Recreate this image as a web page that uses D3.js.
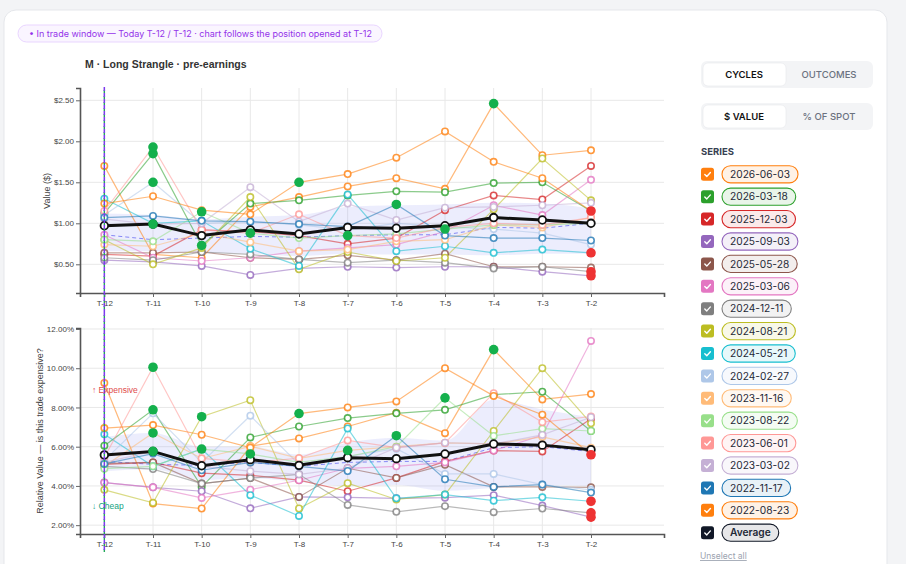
<!DOCTYPE html>
<html>
<head>
<meta charset="utf-8">
<script src="https://cdn.jsdelivr.net/npm/d3@7"></script>
<style>
  body { margin: 0; background: #f3f4f6; }
  svg { display: block; }
  .tick text { font-family: "Liberation Sans", Arial, sans-serif; font-size: 8px; fill: #444; }
  .ui { font-family: Inter, "Noto Sans", sans-serif; }
</style>
</head>
<body>
<div id="chart"></div>
<script>
// Days before earnings and their labels
var days = [-12, -11, -10, -9, -8, -7, -6, -5, -4, -3, -2];
var dayLabels = ["T-12", "T-11", "T-10", "T-9", "T-8", "T-7", "T-6", "T-5", "T-4", "T-3", "T-2"];

// Earnings cycles (legend order) and their colours
var cycleNames = ["2026-06-03", "2026-03-18", "2025-12-03", "2025-09-03", "2025-05-28", "2025-03-06",
    "2024-12-11", "2024-08-21", "2024-05-21", "2024-02-27", "2023-11-16", "2023-08-22",
    "2023-06-01", "2023-03-02", "2022-11-17", "2022-08-23"];
var cycleColors = ["#ff7f0e", "#2ca02c", "#d62728", "#9467bd", "#8c564b", "#e377c2",
    "#7f7f7f", "#bcbd22", "#17becf", "#aec7e8", "#ffbb78", "#98df8a",
    "#ff9896", "#c5b0d5", "#1f77b4", "#ff7f0e"];

// Position value in $ per cycle (T-12 .. T-2)
var valueSeries = [
    [1.70, 0.62, 0.58, 1.20, 1.32, 1.45, 1.55, 1.42, 2.46, 1.83, 1.89],
    [1.12, 1.85, 0.73, 1.24, 1.28, 1.34, 1.39, 1.38, 1.49, 1.50, 1.15],
    [0.62, 0.60, 0.92, 0.90, 0.85, 0.75, 0.82, 1.16, 1.34, 1.29, 1.70],
    [0.55, 0.53, 0.48, 0.37, 0.45, 0.47, 0.46, 0.47, 0.47, 0.41, 0.36],
    [0.64, 0.64, 0.65, 0.58, 0.56, 0.61, 0.55, 0.63, 0.47, 0.47, 0.46],
    [0.86, 0.58, 0.54, 0.58, 0.66, 0.70, 0.74, 0.90, 1.22, 1.10, 1.53],
    [0.58, 0.55, 0.65, 0.62, 0.56, 0.52, 0.55, 0.52, 0.45, 0.47, 0.41],
    [0.80, 0.50, 0.70, 1.32, 0.44, 0.65, 0.54, 0.58, 1.17, 1.79, 1.28],
    [1.30, 1.00, 1.03, 0.69, 0.48, 1.35, 0.66, 0.72, 0.64, 0.68, 0.64],
    [1.10, 1.50, 1.00, 1.02, 0.98, 0.92, 1.00, 0.96, 0.93, 0.88, 0.74],
    [0.74, 0.72, 0.88, 0.77, 0.66, 0.68, 0.78, 0.80, 0.98, 0.95, 1.07],
    [0.80, 0.78, 1.14, 0.88, 0.82, 0.85, 0.87, 0.93, 0.98, 0.98, 1.00],
    [1.15, 1.93, 0.92, 0.88, 1.11, 0.85, 0.82, 0.95, 1.00, 0.98, 1.07],
    [1.05, 0.99, 1.00, 1.44, 1.02, 1.24, 1.04, 1.19, 1.20, 1.22, 1.25],
    [1.07, 1.09, 1.03, 1.02, 0.99, 0.96, 1.23, 0.85, 0.82, 0.82, 0.79],
    [1.24, 1.33, 1.16, 1.11, 1.50, 1.60, 1.80, 2.12, 1.75, 1.55, 1.15]
];
var valueAverage = [0.97, 0.99, 0.85, 0.92, 0.87, 0.95, 0.94, 0.97, 1.07, 1.04, 1.00];
var valueMedian = [0.86, 0.80, 0.82, 0.84, 0.83, 0.85, 0.86, 0.86, 0.95, 0.94, 1.00];
var valueBandLow = [0.66, 0.66, 0.64, 0.63, 0.60, 0.63, 0.62, 0.62, 0.61, 0.63, 0.63];
var valueBandHigh = [1.12, 1.10, 1.05, 1.08, 1.10, 1.20, 1.22, 1.23, 1.25, 1.24, 1.18];
// [cycle index, day index] of exit markers
var valueWins = [[0, 8], [1, 1], [12, 1], [9, 1], [13, 1], [11, 2], [1, 2], [11, 3], [15, 4], [11, 5], [14, 6], [11, 7]];
var valueLosses = [[15, 10], [8, 10], [6, 10], [3, 10]];

// Relative value (% of spot) per cycle
var pctSeries = [
    [9.25, 3.10, 2.85, 6.02, 6.42, 7.03, 7.73, 6.69, 10.95, 8.41, 8.68],
    [6.05, 7.88, 3.95, 6.47, 7.03, 7.46, 7.70, 7.88, 8.65, 8.80, 6.80],
    [5.10, 5.20, 4.65, 4.54, 4.30, 3.73, 4.41, 5.25, 5.80, 5.76, 7.42],
    [4.17, 3.93, 3.73, 2.86, 3.44, 3.42, 3.37, 3.40, 3.53, 3.00, 2.41],
    [5.15, 5.20, 4.12, 4.40, 3.44, 4.90, 4.41, 5.08, 3.95, 3.95, 3.93],
    [4.17, 3.93, 3.39, 3.81, 4.29, 4.90, 5.00, 5.20, 5.80, 6.58, 11.39],
    [5.00, 4.86, 4.12, 4.40, 4.59, 3.03, 2.68, 2.97, 2.66, 2.85, 2.63],
    [3.80, 3.14, 7.53, 8.37, 2.85, 4.14, 3.31, 3.56, 6.80, 10.00, 7.19],
    [6.63, 5.00, 5.88, 3.53, 2.47, 6.93, 3.37, 3.56, 3.25, 3.42, 3.22],
    [5.30, 7.70, 5.20, 7.58, 5.10, 5.50, 5.90, 4.61, 4.61, 4.07, 3.80],
    [5.00, 6.70, 5.40, 6.02, 5.41, 5.81, 6.00, 6.19, 6.14, 6.50, 5.95],
    [4.88, 5.00, 5.88, 5.63, 5.20, 5.50, 6.00, 8.49, 6.55, 6.92, 6.80],
    [5.45, 10.05, 5.40, 5.20, 5.41, 6.32, 5.95, 6.19, 8.73, 7.25, 7.54],
    [5.20, 5.76, 5.00, 4.75, 4.59, 4.90, 5.95, 6.20, 6.14, 6.60, 7.50],
    [5.12, 5.65, 4.80, 5.20, 5.00, 4.76, 6.56, 4.34, 3.95, 4.07, 3.66],
    [6.95, 7.10, 6.61, 5.95, 7.69, 8.00, 8.31, 10.00, 8.59, 7.63, 5.59]
];
var pctAverage = [5.58, 5.76, 5.03, 5.34, 5.05, 5.44, 5.39, 5.63, 6.14, 6.08, 5.85];
var pctMedian = [5.25, 5.10, 5.05, 5.20, 5.00, 5.20, 5.25, 5.25, 5.95, 6.00, 5.75];
var pctBandLow = [4.75, 4.85, 4.30, 4.40, 4.20, 4.00, 4.05, 3.75, 3.90, 4.05, 4.00];
var pctBandHigh = [6.50, 6.70, 6.00, 6.00, 5.60, 6.20, 6.45, 6.30, 8.40, 7.90, 7.50];
var pctWins = [[0, 8], [1, 1], [12, 1], [10, 1], [13, 1], [7, 2], [11, 2], [11, 3], [15, 4], [10, 5], [14, 6], [11, 7]];
var pctLosses = [[15, 10], [8, 10], [6, 10], [3, 10]];

var valueTicks = [0.5, 1, 1.5, 2, 2.5];
var pctTicks = [2, 4, 6, 8, 10, 12];

// Page layout
var svgWidth = 906;
var svgHeight = 564;
var plotLeft = 80;
var plotRight = 664;

var svg = d3.select("#chart")
    .append("svg")
    .attr("width", svgWidth)
    .attr("height", svgHeight);

// White card
svg.append("rect")
    .attr("x", 4).attr("y", 10)
    .attr("width", 883).attr("height", 620)
    .attr("rx", 12)
    .attr("fill", "#ffffff")
    .attr("stroke", "#e5e7eb");

// Trade window banner
svg.append("rect")
    .attr("x", 18).attr("y", 25)
    .attr("width", 364).attr("height", 17)
    .attr("rx", 8.5)
    .attr("fill", "#faf5ff")
    .attr("stroke", "#e9d5ff");
svg.append("text")
    .attr("class", "ui")
    .attr("x", 29).attr("y", 36.5)
    .attr("font-size", 9)
    .attr("fill", "#9333ea")
    .attr("textLength", 343)
    .attr("lengthAdjust", "spacingAndGlyphs")
    .text("\u2022 In trade window \u2014 Today T-12 / T-12 \u00B7 chart follows the position opened at T-12");

// Chart title
svg.append("text")
    .attr("x", 85).attr("y", 68)
    .attr("font-family", "'Liberation Sans', Arial, sans-serif")
    .attr("font-size", 10.5)
    .attr("font-weight", "bold")
    .attr("fill", "#333")
    .text("M \u00B7 Long Strangle \u00B7 pre-earnings");

var x = d3.scaleLinear().domain([-12.5, -0.5]).range([plotLeft, plotRight]);

function drawPanel(cfg) {
    var g = svg.append("g");
    var y = d3.scaleLinear().domain(cfg.domain).range([cfg.bottom, cfg.top]);

    // Grid
    g.append("g").selectAll("line")
        .data(cfg.ticks).enter().append("line")
        .attr("x1", plotLeft).attr("x2", plotRight)
        .attr("y1", function (d) { return y(d); })
        .attr("y2", function (d) { return y(d); })
        .attr("stroke", "#e8e8e8");
    g.append("g").selectAll("line")
        .data(days).enter().append("line")
        .attr("x1", function (d) { return x(d); })
        .attr("x2", function (d) { return x(d); })
        .attr("y1", cfg.top).attr("y2", cfg.bottom)
        .attr("stroke", "#e8e8e8");

    // Inter-quartile band and median
    var band = d3.area()
        .x(function (d, i) { return x(days[i]); })
        .y0(function (d, i) { return y(cfg.bandLow[i]); })
        .y1(function (d, i) { return y(cfg.bandHigh[i]); })
        .curve(d3.curveMonotoneX);
    g.append("path")
        .datum(days)
        .attr("d", band)
        .attr("fill", "#8b8cf0")
        .attr("fill-opacity", 0.16);

    var line = d3.line()
        .x(function (d, i) { return x(days[i]); })
        .y(function (d) { return y(d); });

    g.append("path")
        .datum(cfg.median)
        .attr("d", line)
        .attr("fill", "none")
        .attr("stroke", "#6366f1")
        .attr("stroke-opacity", 0.75)
        .attr("stroke-width", 1)
        .attr("stroke-dasharray", "4,3");

    // Cycle lines
    g.append("g").selectAll("path")
        .data(cfg.series).enter().append("path")
        .attr("d", line)
        .attr("fill", "none")
        .attr("stroke", function (d, i) { return cycleColors[i]; })
        .attr("stroke-opacity", 0.55)
        .attr("stroke-width", 1.2);

    // Cycle markers
    cfg.series.forEach(function (vals, s) {
        g.append("g").selectAll("circle")
            .data(vals).enter().append("circle")
            .attr("cx", function (d, i) { return x(days[i]); })
            .attr("cy", function (d) { return y(d); })
            .attr("r", 3.2)
            .attr("fill", "#fff")
            .attr("stroke", cycleColors[s])
            .attr("stroke-opacity", 0.8)
            .attr("stroke-width", 1.6);
    });

    // Average
    g.append("path")
        .datum(cfg.average)
        .attr("d", line)
        .attr("fill", "none")
        .attr("stroke", "#111")
        .attr("stroke-width", 3);
    g.append("g").selectAll("circle")
        .data(cfg.average).enter().append("circle")
        .attr("cx", function (d, i) { return x(days[i]); })
        .attr("cy", function (d) { return y(d); })
        .attr("r", 3.8)
        .attr("fill", "#fff")
        .attr("stroke", "#111")
        .attr("stroke-width", 1.8);

    // Exit markers
    g.append("g").selectAll("circle")
        .data(cfg.wins).enter().append("circle")
        .attr("cx", function (d) { return x(days[d[1]]); })
        .attr("cy", function (d) { return y(cfg.series[d[0]][d[1]]); })
        .attr("r", 4.8)
        .attr("fill", "#14b04c");
    g.append("g").selectAll("circle")
        .data(cfg.losses).enter().append("circle")
        .attr("cx", function (d) { return x(days[d[1]]); })
        .attr("cy", function (d) { return y(cfg.series[d[0]][d[1]]); })
        .attr("r", 4.8)
        .attr("fill", "#ee3333");

    // Axes
    var leftAxis = d3.axisLeft(y).tickValues(cfg.ticks).tickFormat(cfg.format).tickSize(4).tickPadding(2);
    var bottomAxis = d3.axisBottom(x).tickValues(days)
        .tickFormat(function (d, i) { return dayLabels[i]; }).tickSize(4).tickPadding(3);

    var ya = g.append("g").attr("transform", "translate(" + plotLeft + ",0)").call(leftAxis);
    var xa = g.append("g").attr("transform", "translate(0," + cfg.bottom + ")").call(bottomAxis);
    [ya, xa].forEach(function (a) {
        a.select(".domain").attr("stroke", "#555").attr("stroke-width", 1.6);
        a.selectAll(".tick line").attr("stroke", "#666");
    });

    // Axis label
    g.append("text")
        .attr("transform", "rotate(-90)")
        .attr("x", -cfg.labelY)
        .attr("y", cfg.labelX)
        .attr("text-anchor", "middle")
        .attr("font-family", "'Liberation Sans', Arial, sans-serif")
        .attr("font-size", 9)
        .attr("fill", "#444")
        .text(cfg.label);

    // Today's position marker
    g.append("line")
        .attr("x1", x(days[0])).attr("x2", x(days[0]))
        .attr("y1", cfg.lineTop).attr("y2", cfg.lineBottom)
        .attr("stroke", "#22a85a")
        .attr("stroke-width", 1.4)
        .attr("stroke-dasharray", "3,3")
        .attr("stroke-dashoffset", 3);
    g.append("line")
        .attr("x1", x(days[0])).attr("x2", x(days[0]))
        .attr("y1", cfg.lineTop).attr("y2", cfg.lineBottom)
        .attr("stroke", "#7c3aed")
        .attr("stroke-width", 1.5)
        .attr("stroke-dasharray", "4,2");

    return g;
}

drawPanel({
    domain: [0.15, 2.65], top: 88, bottom: 293,
    ticks: valueTicks, format: function (d) { return "$" + d3.format(".2f")(d); },
    series: valueSeries, average: valueAverage, median: valueMedian,
    bandLow: valueBandLow, bandHigh: valueBandHigh,
    wins: valueWins, losses: valueLosses,
    label: "Value ($)", labelX: 50, labelY: 191,
    lineTop: 87, lineBottom: 312
});

var bottomPanel = drawPanel({
    domain: [1.55, 12.05], top: 328, bottom: 534,
    ticks: pctTicks, format: function (d) { return d3.format(".2f")(d) + "%"; },
    series: pctSeries, average: pctAverage, median: pctMedian,
    bandLow: pctBandLow, bandHigh: pctBandHigh,
    wins: pctWins, losses: pctLosses,
    label: "Relative Value \u2014 is this trade expensive?", labelX: 43, labelY: 431,
    lineTop: 312, lineBottom: 552
});

bottomPanel.append("text")
    .attr("x", 92).attr("y", 393)
    .attr("font-family", "'Liberation Sans', Arial, sans-serif")
    .attr("font-size", 8.5)
    .attr("fill", "#e04a4a")
    .text("\u2191 Expensive");
bottomPanel.append("text")
    .attr("x", 92).attr("y", 509)
    .attr("font-family", "'Liberation Sans', Arial, sans-serif")
    .attr("font-size", 8.5)
    .attr("fill", "#14a37f")
    .text("\u2193 Cheap");

// Right-hand controls
var side = svg.append("g").attr("class", "ui");

function toggle(y0, labels) {
    side.append("rect")
        .attr("x", 701).attr("y", y0)
        .attr("width", 172).attr("height", 27)
        .attr("rx", 6)
        .attr("fill", "#f3f4f6");
    side.append("rect")
        .attr("x", 703).attr("y", y0 + 2)
        .attr("width", 83).attr("height", 23)
        .attr("rx", 5)
        .attr("fill", "#fff")
        .attr("stroke", "#e5e7eb")
        .attr("stroke-width", 0.6);
    side.append("text")
        .attr("x", 744).attr("y", y0 + 17)
        .attr("text-anchor", "middle")
        .attr("font-size", 9.5).attr("font-weight", 600)
        .attr("fill", "#111")
        .text(labels[0]);
    side.append("text")
        .attr("x", 829).attr("y", y0 + 17)
        .attr("text-anchor", "middle")
        .attr("font-size", 9.5).attr("font-weight", 500)
        .attr("fill", "#6b7280")
        .text(labels[1]);
}
toggle(61, ["CYCLES", "OUTCOMES"]);
toggle(103, ["$ VALUE", "% OF SPOT"]);

side.append("text")
    .attr("x", 701).attr("y", 155)
    .attr("font-size", 9.5).attr("font-weight", 700)
    .attr("fill", "#374151")
    .text("SERIES");

var legendNames = cycleNames.concat(["Average"]);
var legendColors = cycleColors.concat(["#111827"]);

var rows = side.selectAll("g.row")
    .data(legendNames).enter().append("g")
    .attr("class", "row")
    .attr("transform", function (d, i) { return "translate(701," + (174.3 + i * 22.4) + ")"; });

rows.append("rect")
    .attr("x", 0).attr("y", -6.5)
    .attr("width", 13).attr("height", 13)
    .attr("rx", 2.5)
    .attr("fill", function (d, i) { return legendColors[i]; });
rows.append("path")
    .attr("d", "M3.8,0.2 L5.8,2.2 L9.4,-1.8")
    .attr("fill", "none")
    .attr("stroke", "#fff")
    .attr("stroke-width", 1.4)
    .attr("stroke-linecap", "round")
    .attr("stroke-linejoin", "round");

var pills = rows.append("rect")
    .attr("x", 21).attr("y", -8.6)
    .attr("height", 17.2)
    .attr("rx", 8.6)
    .attr("fill", function (d, i) { return legendColors[i]; })
    .attr("fill-opacity", 0.1)
    .attr("stroke", function (d, i) { return legendColors[i]; })
    .attr("stroke-width", 1.1);
var pillText = rows.append("text")
    .attr("x", 29).attr("y", 3.6)
    .attr("font-size", 10.2)
    .attr("font-weight", function (d) { return d === "Average" ? 600 : 400; })
    .attr("fill", "#1f2937")
    .text(function (d) { return d; });
pillText.each(function (d, i) {
    var w = this.getComputedTextLength();
    d3.select(pills.nodes()[i]).attr("width", w + 16);
});

side.append("text")
    .attr("x", 700).attr("y", 559)
    .attr("font-size", 8.5)
    .attr("fill", "#9ca3af")
    .attr("text-decoration", "underline")
    .text("Unselect all");
</script>
</body>
</html>
